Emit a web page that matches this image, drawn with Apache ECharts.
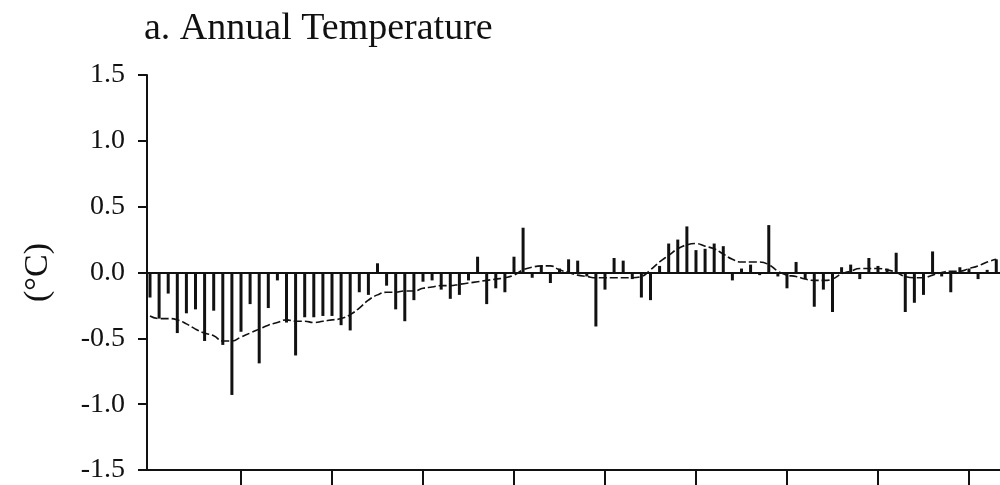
<!DOCTYPE html>
<html>
<head>
<meta charset="utf-8">
<script src="https://cdn.jsdelivr.net/npm/echarts@6/dist/echarts.min.js"></script>
<style>
html,body{margin:0;padding:0;background:#fff;}
#chart{width:1000px;height:485px;}
</style>
</head>
<body>
<div id="chart"></div>
<script>
const titleText = 'a. Annual Temperature';
const yAxisName = '(°C)';
const years = [1880,1881,1882,1883,1884,1885,1886,1887,1888,1889,
1890,1891,1892,1893,1894,1895,1896,1897,1898,1899,
1900,1901,1902,1903,1904,1905,1906,1907,1908,1909,
1910,1911,1912,1913,1914,1915,1916,1917,1918,1919,
1920,1921,1922,1923,1924,1925,1926,1927,1928,1929,
1930,1931,1932,1933,1934,1935,1936,1937,1938,1939,
1940,1941,1942,1943,1944,1945,1946,1947,1948,1949,
1950,1951,1952,1953,1954,1955,1956,1957,1958,1959,
1960,1961,1962,1963,1964,1965,1966,1967,1968,1969,
1970,1971,1972,1973];
const anomalies = [-0.19,-0.35,-0.16,-0.46,-0.31,-0.28,-0.52,-0.29,-0.55,-0.93,
-0.45,-0.24,-0.69,-0.27,-0.06,-0.38,-0.63,-0.34,-0.34,-0.33,
-0.33,-0.40,-0.44,-0.15,-0.17,0.07,-0.10,-0.28,-0.37,-0.21,
-0.07,-0.06,-0.13,-0.20,-0.17,-0.06,0.12,-0.24,-0.12,-0.15,
0.12,0.34,-0.04,0.05,-0.08,0.03,0.10,0.09,-0.03,-0.41,
-0.13,0.11,0.09,-0.05,-0.19,-0.21,0.05,0.22,0.25,0.35,
0.17,0.18,0.22,0.20,-0.06,0.03,0.06,-0.02,0.36,-0.03,
-0.12,0.08,-0.05,-0.26,-0.13,-0.30,0.04,0.06,-0.05,0.11,
0.05,0.03,0.15,-0.30,-0.23,-0.17,0.16,-0.03,-0.15,0.04,
0.03,-0.05,0.02,0.10];
const smoothed = [-0.33,-0.35,-0.35,-0.36,-0.39,-0.43,-0.46,-0.48,-0.52,-0.52,
-0.49,-0.46,-0.43,-0.40,-0.38,-0.36,-0.37,-0.37,-0.38,-0.37,
-0.36,-0.35,-0.32,-0.27,-0.21,-0.17,-0.15,-0.15,-0.14,-0.14,
-0.12,-0.11,-0.10,-0.10,-0.09,-0.08,-0.07,-0.06,-0.05,-0.04,
-0.02,0.02,0.04,0.05,0.05,0.02,0.00,-0.02,-0.03,-0.04,
-0.04,-0.04,-0.04,-0.04,-0.03,0.02,0.08,0.13,0.18,0.21,
0.22,0.20,0.18,0.14,0.10,0.08,0.08,0.08,0.06,0.01,
-0.02,-0.03,-0.05,-0.06,-0.06,-0.05,-0.01,0.01,0.03,0.03,
0.03,0.02,0.00,-0.03,-0.04,-0.04,-0.02,0.00,0.01,0.01,
0.03,0.05,0.08,0.10];
const decadeTicks = [1890,1900,1910,1920,1930,1940,1950,1960,1970];
const yTicks = [-1.5,-1.0,-0.5,0.0,0.5,1.0,1.5];

const barData = years.map((y,i)=>[y, anomalies[i]]);
const lineData = years.map((y,i)=>[y, smoothed[i]]);
const serif = '"Liberation Serif", "DejaVu Serif", serif';

const chart = echarts.init(document.getElementById('chart'), null, {renderer:'canvas'});
chart.setOption({
  animation:false,
  backgroundColor:'#fff',
  title:{text:titleText,left:139,top:5,
    textStyle:{fontFamily:serif,fontSize:38,fontWeight:'normal',color:'#111'}},
  grid:{left:147,right:0,top:75,bottom:15,containLabel:false},
  xAxis:{type:'value',min:1879.67,max:1973.41,
    axisLine:{show:true,onZero:false,lineStyle:{color:'#111',width:2}},
    axisTick:{show:true,customValues:decadeTicks,length:15,lineStyle:{color:'#111',width:2}},
    axisLabel:{show:false},splitLine:{show:false}},
  yAxis:{type:'value',min:yTicks[0],max:yTicks[yTicks.length-1],interval:0.5,
    name:yAxisName,nameLocation:'middle',nameRotate:90,nameGap:92,
    nameTextStyle:{fontFamily:serif,fontSize:34,color:'#111'},
    axisLine:{show:true,lineStyle:{color:'#111',width:2}},
    axisTick:{show:true,length:9,lineStyle:{color:'#111',width:2}},
    axisLabel:{fontFamily:serif,fontSize:28,color:'#111',margin:22,
      formatter:v=>v.toFixed(1)},
    splitLine:{show:false}},
  series:[
    {type:'bar',data:barData,barWidth:3,itemStyle:{color:'#111'},
     markLine:{silent:true,symbol:'none',label:{show:false},
       lineStyle:{color:'#111',width:2,type:'solid'},data:[{yAxis:0}]}},
    {type:'line',data:lineData,smooth:true,symbol:'none',
     lineStyle:{color:'#111',width:1.6,type:[8,3]}}
  ]
});
</script>
</body>
</html>
